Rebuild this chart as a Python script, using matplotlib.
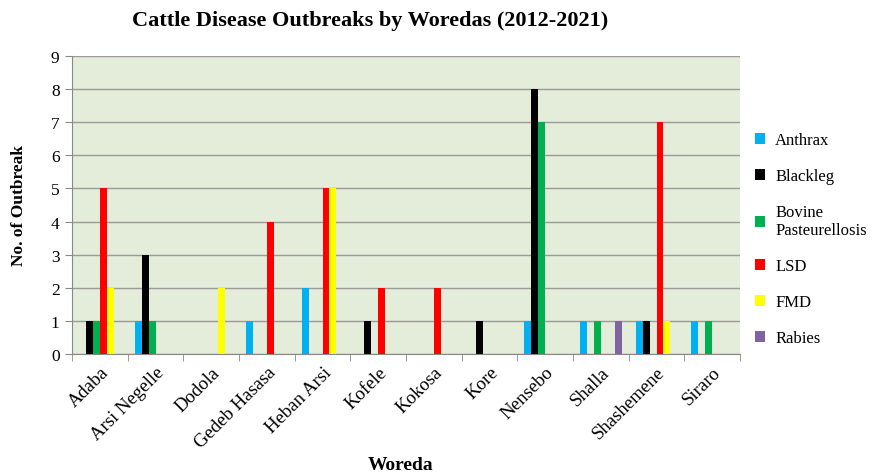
import numpy as np
import matplotlib.pyplot as plt

woredas = ["Adaba", "Arsi Negelle", "Dodola", "Gedeb Hasasa", "Heban Arsi", "Kofele",
           "Kokosa", "Kore", "Nensebo", "Shalla", "Shashemene", "Siraro"]
anthrax = [0, 1, 0, 1, 2, 0, 0, 0, 1, 1, 1, 1]
blackleg = [1, 3, 0, 0, 0, 1, 0, 1, 8, 0, 1, 0]
bovine = [1, 1, 0, 0, 0, 0, 0, 0, 7, 1, 0, 1]
lsd = [5, 0, 0, 4, 5, 2, 2, 0, 0, 0, 7, 0]
fmd = [2, 0, 2, 0, 5, 0, 0, 0, 0, 0, 1, 0]
rabies = [0, 0, 0, 0, 0, 0, 0, 0, 0, 1, 0, 0]

series = [
    ("Anthrax", anthrax, "#00B0F0"),
    ("Blackleg", blackleg, "#000000"),
    ("Bovine\nPasteurellosis", bovine, "#00B050"),
    ("LSD", lsd, "#FF0000"),
    ("FMD", fmd, "#FFFF00"),
    ("Rabies", rabies, "#8064A2"),
]

plt.rcParams['font.family'] = ['Liberation Serif', 'DejaVu Serif']

fig = plt.figure(figsize=(8.74, 4.77), dpi=100)
ax = fig.add_axes([0.0824, 0.2558, 0.7643, 0.6247])
ax.set_facecolor("#E4ECDA")

x = np.arange(len(woredas))
w = 0.125
for i, (name, vals, col) in enumerate(series):
    ax.bar(x + (i - 3) * w, vals, width=w, align='edge', color=col, label=name, zorder=3)

ax.set_xlim(-0.5, len(woredas) - 0.5)
ax.set_ylim(0, 9)
ax.set_yticks(range(0, 10))
ax.yaxis.grid(True, color="#9A9A9A", linewidth=1.0, zorder=0)
ax.tick_params(axis='y', labelsize=12.5, length=5, color="#888888", pad=4)

ax.set_xticks(x)
ax.set_xticklabels(woredas, rotation=45, ha='right', rotation_mode='anchor', fontsize=13.5)
ax.set_xticks(np.arange(-0.5, len(woredas)), minor=True)
ax.tick_params(axis='x', which='major', length=0, pad=7)
ax.tick_params(axis='x', which='minor', length=5, color="#888888")

for s in ["top", "right"]:
    ax.spines[s].set_visible(False)
ax.spines["left"].set_color("#888888")
ax.spines["bottom"].set_color("#888888")

fig.text(0.423, 0.955, "Cattle Disease Outbreaks by Woredas (2012-2021)",
         ha='center', va='center', fontsize=16, fontweight='bold')
fig.text(0.458, 0.025, "Woreda", ha='center', va='center', fontsize=14, fontweight='bold')
fig.text(0.022, 0.57, "No. of Outbreak", ha='center', va='center', rotation=90,
         fontsize=12.5, fontweight='bold')

leg = ax.legend(loc='upper left', bbox_to_anchor=(1.0, 0.795), frameon=False,
                fontsize=12, handlelength=0.6, handleheight=0.6, handletextpad=0.6,
                labelspacing=1.2, borderaxespad=0.5)

fig.savefig("out.png", dpi=100)
